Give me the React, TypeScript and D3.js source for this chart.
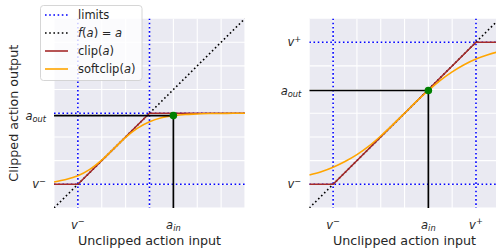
import React, { useEffect, useRef } from 'react';
import * as d3 from 'd3';

// shared data range for both panels (unitless action space)
const axisDomain = [0, 8];
const gridValues = [0, 1, 2, 3, 4, 5, 6, 7, 8];

const sampleInputs = [0, 0.5, 1, 1.5, 2, 2.5, 3, 3.5, 4, 4.5, 5, 5.5, 6, 6.5, 7, 7.5, 8];

// left panel: narrow limits, input outside them
const leftLimits = [1, 4];
const leftInput = 5;
const leftOutput = 3.9;
const leftClipX = [0, 1, 4, 8];
const leftClipY = [1, 1, 4, 4];
const leftSoft = [1.1, 1.2, 1.36, 1.63, 2.02, 2.5, 2.98, 3.37, 3.64, 3.81, 3.9, 3.95, 3.97, 3.99, 3.99, 4.0, 4.0];

// right panel: wide limits, input inside them
const rightLimits = [1, 7];
const rightInput = 5;
const rightOutput = 4.96;
const rightClipX = [0, 1, 7, 8];
const rightClipY = [1, 1, 7, 7];
const rightSoft = [1.39, 1.53, 1.72, 1.96, 2.25, 2.61, 3.04, 3.51, 4.0, 4.5, 4.96, 5.39, 5.75, 6.05, 6.29, 6.47, 6.61];

const legendLabels = ['limits', 'f(a) = a', 'clip(a)', 'softclip(a)'];

type Pt = [number, number];
type TickLabel = { value: number; base: string; mod: string; kind: 'sub' | 'sup' };

const FONT = '"DejaVu Sans", sans-serif';
const DOTS = '1.6 2.6';

function mathLabel(
  sel: d3.Selection<SVGTextElement, unknown, null, undefined>,
  t: TickLabel,
  size: number,
) {
  sel.append('tspan').attr('font-style', 'italic').text(t.base);
  if (t.kind === 'sub') {
    sel.append('tspan').attr('font-style', 'italic').attr('font-size', size * 0.72).attr('dy', 2.8).text(t.mod);
  } else {
    sel.append('tspan').attr('font-size', size * 0.72).attr('dy', -4.5).text(t.mod);
  }
}

export default function App() {
  const ref = useRef<SVGSVGElement>(null);

  useEffect(() => {
    if (!ref.current) return;
    const svg = d3.select(ref.current);
    svg.selectAll('*').remove();

    const top = 18.5;
    const bottom = 208;
    const tickSize = 11.5;

    const panels = [
      {
        id: 'l', x0: 54, x1: 245, limits: leftLimits, input: leftInput, output: leftOutput,
        clipX: leftClipX, clipY: leftClipY, soft: leftSoft,
        yTicks: [
          { value: leftOutput, base: 'a', mod: 'out', kind: 'sub' },
          { value: leftLimits[0], base: 'v', mod: '\u2212', kind: 'sup' },
        ] as TickLabel[],
        xTicks: [
          { value: leftLimits[0], base: 'v', mod: '\u2212', kind: 'sup' },
          { value: leftInput, base: 'a', mod: 'in', kind: 'sub' },
        ] as TickLabel[],
      },
      {
        id: 'r', x0: 309.3, x1: 499.8, limits: rightLimits, input: rightInput, output: rightOutput,
        clipX: rightClipX, clipY: rightClipY, soft: rightSoft,
        yTicks: [
          { value: rightLimits[1], base: 'v', mod: '+', kind: 'sup' },
          { value: rightOutput, base: 'a', mod: 'out', kind: 'sub' },
          { value: rightLimits[0], base: 'v', mod: '\u2212', kind: 'sup' },
        ] as TickLabel[],
        xTicks: [
          { value: rightLimits[0], base: 'v', mod: '\u2212', kind: 'sup' },
          { value: rightInput, base: 'a', mod: 'in', kind: 'sub' },
          { value: rightLimits[1], base: 'v', mod: '+', kind: 'sup' },
        ] as TickLabel[],
      },
    ];

    const defs = svg.append('defs');

    panels.forEach(p => {
      const x = d3.scaleLinear().domain(axisDomain).range([p.x0, p.x1]);
      const y = d3.scaleLinear().domain(axisDomain).range([bottom, top]);

      defs.append('clipPath').attr('id', `clip-${p.id}`)
        .append('rect')
        .attr('x', p.x0).attr('y', top)
        .attr('width', p.x1 - p.x0).attr('height', bottom - top);

      svg.append('rect')
        .attr('x', p.x0).attr('y', top)
        .attr('width', p.x1 - p.x0).attr('height', bottom - top)
        .attr('fill', '#eaeaf2');

      const g = svg.append('g').attr('clip-path', `url(#clip-${p.id})`);

      // white grid
      g.selectAll('.vg').data(gridValues).enter().append('line')
        .attr('x1', d => x(d)).attr('x2', d => x(d))
        .attr('y1', top).attr('y2', bottom)
        .attr('stroke', '#fff').attr('stroke-width', 1.1);
      g.selectAll('.hg').data(gridValues).enter().append('line')
        .attr('y1', d => y(d)).attr('y2', d => y(d))
        .attr('x1', p.x0).attr('x2', p.x1)
        .attr('stroke', '#fff').attr('stroke-width', 1.1);

      // limits
      p.limits.forEach(v => {
        g.append('line')
          .attr('x1', x(v)).attr('x2', x(v)).attr('y1', top).attr('y2', bottom)
          .attr('stroke', '#0000ff').attr('stroke-width', 1.6).attr('stroke-dasharray', DOTS);
        g.append('line')
          .attr('y1', y(v)).attr('y2', y(v)).attr('x1', p.x0).attr('x2', p.x1)
          .attr('stroke', '#0000ff').attr('stroke-width', 1.6).attr('stroke-dasharray', DOTS);
      });

      const line = d3.line<Pt>().x(d => x(d[0])).y(d => y(d[1]));

      // identity
      g.append('path')
        .datum(axisDomain.map(v => [v, v] as Pt))
        .attr('d', line)
        .attr('fill', 'none').attr('stroke', '#000')
        .attr('stroke-width', 1.6).attr('stroke-dasharray', DOTS);

      // hard clip
      g.append('path')
        .datum(p.clipX.map((v, i) => [v, p.clipY[i]] as Pt))
        .attr('d', line)
        .attr('fill', 'none').attr('stroke', '#a52a2a').attr('stroke-width', 1.6);

      // soft clip
      g.append('path')
        .datum(sampleInputs.map((v, i) => [v, p.soft[i]] as Pt))
        .attr('d', line.curve(d3.curveMonotoneX))
        .attr('fill', 'none').attr('stroke', '#ffa500').attr('stroke-width', 1.6);

      // input / output guides
      g.append('path')
        .datum([[axisDomain[0], p.output], [p.input, p.output], [p.input, axisDomain[0]]] as Pt[])
        .attr('d', d3.line<Pt>().x(d => x(d[0])).y(d => y(d[1])))
        .attr('fill', 'none').attr('stroke', '#000').attr('stroke-width', 1.7);

      g.append('circle')
        .attr('cx', x(p.input)).attr('cy', y(p.output)).attr('r', 3.8)
        .attr('fill', '#008000');

      // tick labels
      p.yTicks.forEach(t => {
        const txt = svg.append('text')
          .attr('x', p.x0 - 8).attr('y', y(t.value) + 4)
          .attr('text-anchor', 'end')
          .attr('font-family', FONT).attr('font-size', tickSize).attr('fill', '#262626');
        mathLabel(txt, t, tickSize);
      });
      p.xTicks.forEach(t => {
        const txt = svg.append('text')
          .attr('x', x(t.value)).attr('y', 228.5)
          .attr('text-anchor', 'middle')
          .attr('font-family', FONT).attr('font-size', tickSize).attr('fill', '#262626');
        mathLabel(txt, t, tickSize);
      });

      svg.append('text')
        .attr('x', (p.x0 + p.x1) / 2).attr('y', 245)
        .attr('text-anchor', 'middle')
        .attr('font-family', FONT).attr('font-size', 12.7).attr('fill', '#262626')
        .text('Unclipped action input');
    });

    svg.append('text')
      .attr('transform', `translate(18, ${(top + bottom) / 2}) rotate(-90)`)
      .attr('text-anchor', 'middle')
      .attr('font-family', FONT).attr('font-size', 12.7).attr('fill', '#262626')
      .text('Clipped action output');

    // legend
    const lg = svg.append('g');
    lg.append('rect')
      .attr('x', 40.5).attr('y', 5.5).attr('width', 101.5).attr('height', 75).attr('rx', 3)
      .attr('fill', '#fff').attr('fill-opacity', 0.8).attr('stroke', '#cccccc').attr('stroke-width', 0.8);

    const handles = [
      { color: '#0000ff', dash: DOTS },
      { color: '#000', dash: DOTS },
      { color: '#a52a2a', dash: null },
      { color: '#ffa500', dash: null },
    ];
    legendLabels.forEach((lab, i) => {
      const cy = 15 + i * 18;
      lg.append('line')
        .attr('x1', 45).attr('x2', 68).attr('y1', cy).attr('y2', cy)
        .attr('stroke', handles[i].color).attr('stroke-width', 1.6)
        .attr('stroke-dasharray', handles[i].dash);
      const txt = lg.append('text')
        .attr('x', 78).attr('y', cy + 4)
        .attr('font-family', FONT).attr('font-size', tickSize).attr('fill', '#262626');
      if (i === 0) {
        txt.text(lab);
      } else if (i === 1) {
        txt.append('tspan').attr('font-style', 'italic').text('f');
        txt.append('tspan').text('(');
        txt.append('tspan').attr('font-style', 'italic').text('a');
        txt.append('tspan').text(') = ');
        txt.append('tspan').attr('font-style', 'italic').text('a');
      } else {
        const name = lab.slice(0, lab.indexOf('('));
        txt.append('tspan').text(name + '(');
        txt.append('tspan').attr('font-style', 'italic').text('a');
        txt.append('tspan').text(')');
      }
    });
  }, []);

  return (
    <div style={{ position: 'absolute', left: 0, top: 0 }}>
      <svg ref={ref} width={496} height={249} style={{ display: 'block', background: '#fff' }} />
    </div>
  );
}
